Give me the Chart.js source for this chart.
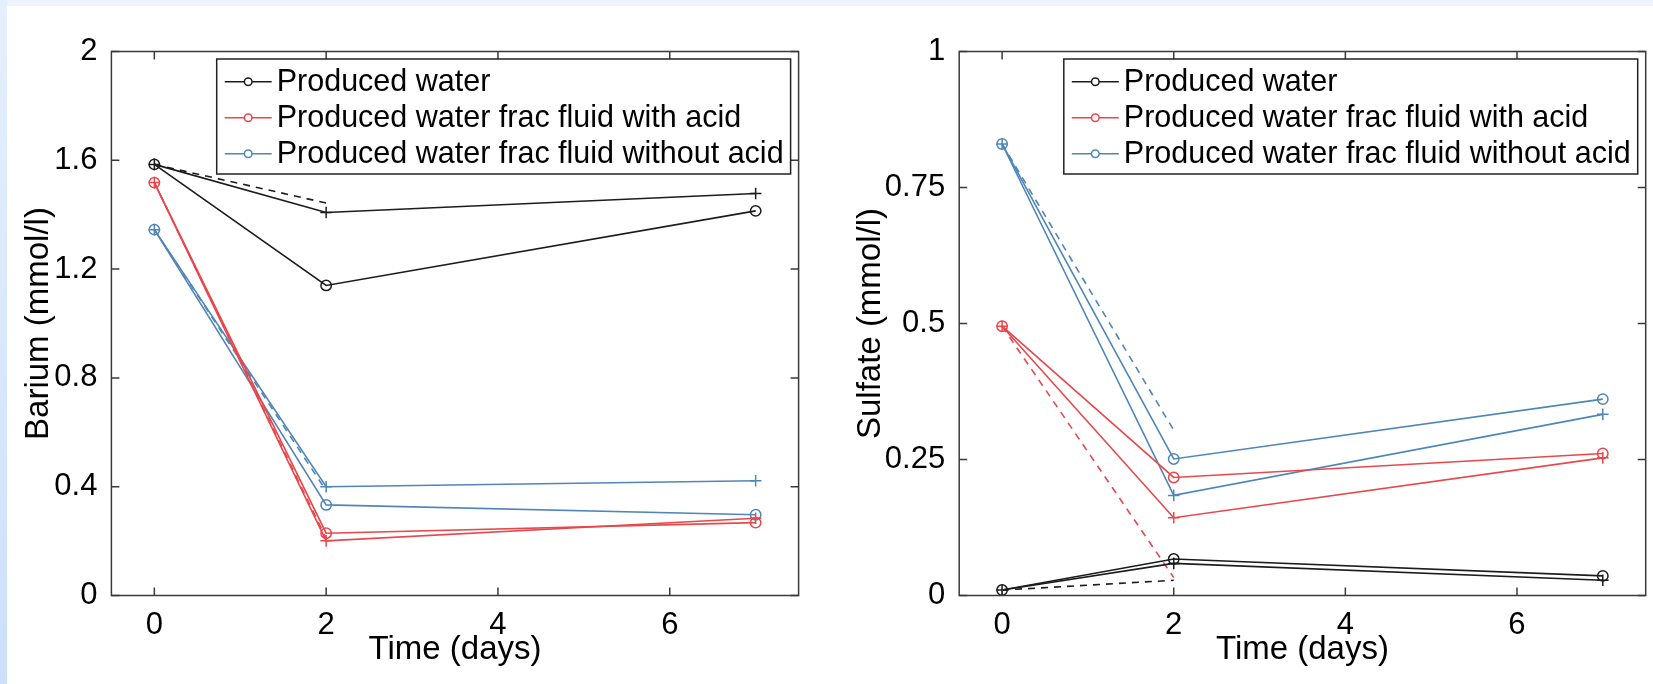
<!DOCTYPE html>
<html><head><meta charset="utf-8">
<script src="https://cdn.jsdelivr.net/npm/chart.js@4.4.1/dist/chart.umd.min.js"></script>
<style>
html,body{margin:0;padding:0;}
body{width:1653px;height:684px;position:relative;overflow:hidden;background:#fff;}
#topstrip{position:absolute;left:0;top:0;width:1653px;height:6px;background:#eef4fd;}
#leftstrip{position:absolute;left:0;top:0;width:7px;height:684px;background:linear-gradient(#e6effc,#cce0fb);}
.panel{position:absolute;top:0;height:684px;}
</style></head>
<body>
<div id="topstrip"></div><div id="leftstrip"></div>
<div class="panel" style="left:0;width:826px"><canvas id="c1" width="826" height="684"></canvas></div>
<div class="panel" style="left:826px;width:827px"><canvas id="c2" width="827" height="684"></canvas></div>
<script>
// ---------- data ----------
const timeDays = [0, 2, 7];
const dashDays = [0, 2];
const xTickValues = [0, 2, 4, 6];
const xTickLabels = ['0', '2', '4', '6'];
const bariumTickValues = [0, 0.4, 0.8, 1.2, 1.6, 2];
const bariumTickLabels = ['0', '0.4', '0.8', '1.2', '1.6', '2'];
const sulfateTickValues = [0, 0.25, 0.5, 0.75, 1];
const sulfateTickLabels = ['0', '0.25', '0.5', '0.75', '1'];
const seriesNames = ['Produced water', 'Produced water frac fluid with acid', 'Produced water frac fluid without acid'];

const bariumPWCircle = [1.585, 1.14, 1.414];
const bariumPWPlus = [1.585, 1.408, 1.478];
const bariumPWDash = [1.585, 1.443];
const bariumAcidCircle = [1.518, 0.229, 0.268];
const bariumAcidPlus = [1.518, 0.201, 0.284];
const bariumAcidDash = [1.518, 0.21];
const bariumNoAcidCircle = [1.345, 0.333, 0.297];
const bariumNoAcidPlus = [1.345, 0.400, 0.422];
const bariumNoAcidDash = [1.345, 0.385];

const sulfatePWCircle = [0.010, 0.067, 0.036];
const sulfatePWPlus = [0.010, 0.059, 0.028];
const sulfatePWDash = [0.010, 0.028];
const sulfateAcidCircle = [0.495, 0.217, 0.261];
const sulfateAcidPlus = [0.495, 0.143, 0.253];
const sulfateAcidDash = [0.495, 0.033];
const sulfateNoAcidCircle = [0.830, 0.251, 0.361];
const sulfateNoAcidPlus = [0.830, 0.184, 0.333];
const sulfateNoAcidDash = [0.830, 0.304];

// ---------- style ----------
const FONT = '"Liberation Sans", Arial, Helvetica, sans-serif';
const COL_BLACK = '#1c1c1c', COL_RED = '#e8474c', COL_BLUE = '#4f86b8';
const AXIS_COL = '#3a3a3a';

function series(xs, ys, color, kind, legendName) {
  return {
    label: legendName || '',
    legendName: legendName || null,
    data: xs.map((x, i) => ({x: x, y: ys[i]})),
    borderColor: color,
    backgroundColor: 'rgba(0,0,0,0)',
    borderWidth: 1.6,
    borderDash: kind === 'dash' ? [7, 6] : [],
    pointStyle: kind === 'circle' ? 'circle' : 'cross',
    pointRadius: kind === 'dash' ? 0 : (kind === 'circle' ? 5.2 : 5.8),
    pointHoverRadius: 0,
    pointBorderColor: color,
    pointBackgroundColor: 'rgba(0,0,0,0)',
    pointBorderWidth: 1.5,
    tension: 0,
    fill: false
  };
}

const matlabPlugin = {
  id: 'matlabAxes',
  afterDatasetsDraw(chart) {
    const ctx = chart.ctx, a = chart.chartArea;
    const xs = chart.scales.x, ys = chart.scales.y;
    ctx.save();
    ctx.strokeStyle = AXIS_COL;
    ctx.lineWidth = 1.5;
    ctx.setLineDash([]);
    ctx.strokeRect(a.left, a.top, a.right - a.left, a.bottom - a.top);
    const TL = 8;
    ctx.beginPath();
    xs.ticks.forEach(t => {
      const px = xs.getPixelForValue(t.value);
      ctx.moveTo(px, a.bottom); ctx.lineTo(px, a.bottom - TL);
      ctx.moveTo(px, a.top); ctx.lineTo(px, a.top + TL);
    });
    ys.ticks.forEach(t => {
      const py = ys.getPixelForValue(t.value);
      ctx.moveTo(a.left, py); ctx.lineTo(a.left + TL, py);
      ctx.moveTo(a.right, py); ctx.lineTo(a.right - TL, py);
    });
    ctx.stroke();

    // legend box (MATLAB style, inside top-right)
    const items = chart.data.datasets.filter(d => d.legendName);
    const fsz = 30.5;
    ctx.font = fsz + 'px ' + FONT;
    let maxW = 0;
    items.forEach(d => { maxW = Math.max(maxW, ctx.measureText(d.legendName).width); });
    const padL = 8, sampleLen = 47, gap = 5, padR = 7;
    const boxW = padL + sampleLen + gap + maxW + padR;
    const boxH = 115;
    const bx = a.right - 8 - boxW, by = a.top + 7.5;
    ctx.fillStyle = '#fff';
    ctx.fillRect(bx, by, boxW, boxH);
    ctx.strokeStyle = '#222';
    ctx.lineWidth = 1.5;
    ctx.strokeRect(bx, by, boxW, boxH);
    items.forEach((d, i) => {
      const cy = by + 22.7 + i * 36;
      ctx.strokeStyle = d.borderColor;
      ctx.lineWidth = 1.5;
      ctx.beginPath();
      ctx.moveTo(bx + padL, cy); ctx.lineTo(bx + padL + sampleLen, cy);
      ctx.stroke();
      ctx.beginPath();
      ctx.arc(bx + padL + sampleLen / 2, cy, 3.8, 0, Math.PI * 2);
      ctx.fillStyle = '#fff';
      ctx.fill();
      ctx.stroke();
      ctx.fillStyle = '#000';
      ctx.textBaseline = 'middle';
      ctx.textAlign = 'left';
      ctx.fillText(d.legendName, bx + padL + sampleLen + gap, cy + 1);
    });
    ctx.restore();
  }
};

function makeChart(id, cfg) {
  const datasets = [
    series(timeDays, cfg.pwCircle, COL_BLACK, 'circle', seriesNames[0]),
    series(timeDays, cfg.pwPlus, COL_BLACK, 'plus'),
    series(dashDays, cfg.pwDash, COL_BLACK, 'dash'),
    series(timeDays, cfg.acidCircle, COL_RED, 'circle', seriesNames[1]),
    series(timeDays, cfg.acidPlus, COL_RED, 'plus'),
    series(dashDays, cfg.acidDash, COL_RED, 'dash'),
    series(timeDays, cfg.noAcidCircle, COL_BLUE, 'circle', seriesNames[2]),
    series(timeDays, cfg.noAcidPlus, COL_BLUE, 'plus'),
    series(dashDays, cfg.noAcidDash, COL_BLUE, 'dash')
  ];
  return new Chart(document.getElementById(id), {
    type: 'line',
    data: {datasets: datasets},
    plugins: [matlabPlugin],
    options: {
      responsive: false,
      animation: false,
      devicePixelRatio: 1,
      events: [],
      layout: {padding: {top: 51.5, right: cfg.padRight, bottom: 0, left: 0}},
      plugins: {legend: {display: false}, tooltip: {enabled: false}},
      scales: {
        x: {
          type: 'linear', min: -0.5, max: 7.5,
          afterBuildTicks: s => { s.ticks = xTickValues.map(v => ({value: v})); },
          afterFit: s => { s.height = 88.5; },
          grid: {display: false}, border: {display: false},
          ticks: {padding: 3, color: '#000', autoSkip: false, maxRotation: 0,
                  font: {family: FONT, size: 31},
                  callback: (v, i) => xTickLabels[i]},
          title: {display: true, text: 'Time (days)', color: '#000',
                  font: {family: FONT, size: 33}, padding: {top: 0, bottom: 13.8}}
        },
        y: {
          type: 'linear', min: cfg.yMin, max: cfg.yMax,
          afterBuildTicks: s => { s.ticks = cfg.tickValues.map(v => ({value: v})); },
          afterFit: s => { s.width = cfg.yWidth; },
          grid: {display: false}, border: {display: false},
          ticks: {padding: 6, color: '#000', autoSkip: false,
                  font: {family: FONT, size: 31},
                  callback: (v, i) => cfg.tickLabels[i]},
          title: {display: true, text: cfg.yTitle, color: '#000',
                  font: {family: FONT, size: 33}, padding: {top: cfg.titlePad, bottom: 0}}
        }
      }
    }
  });
}

makeChart('c1', {
  pwCircle: bariumPWCircle, pwPlus: bariumPWPlus, pwDash: bariumPWDash,
  acidCircle: bariumAcidCircle, acidPlus: bariumAcidPlus, acidDash: bariumAcidDash,
  noAcidCircle: bariumNoAcidCircle, noAcidPlus: bariumNoAcidPlus, noAcidDash: bariumNoAcidDash,
  yMin: 0, yMax: 2, tickValues: bariumTickValues, tickLabels: bariumTickLabels,
  yTitle: 'Barium (mmol/l)', yWidth: 111.4, padRight: 27.4, titlePad: 19.2
});
makeChart('c2', {
  pwCircle: sulfatePWCircle, pwPlus: sulfatePWPlus, pwDash: sulfatePWDash,
  acidCircle: sulfateAcidCircle, acidPlus: sulfateAcidPlus, acidDash: sulfateAcidDash,
  noAcidCircle: sulfateNoAcidCircle, noAcidPlus: sulfateNoAcidPlus, noAcidDash: sulfateNoAcidDash,
  yMin: 0, yMax: 1, tickValues: sulfateTickValues, tickLabels: sulfateTickLabels,
  yTitle: 'Sulfate (mmol/l)', yWidth: 133.2, padRight: 7, titlePad: 24.7
});
</script>
</body></html>
